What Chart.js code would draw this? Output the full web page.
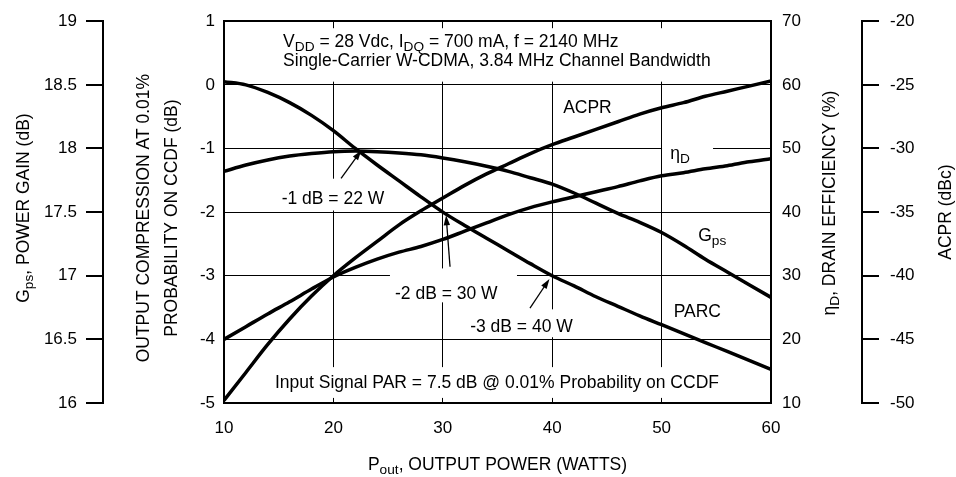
<!DOCTYPE html>
<html>
<head>
<meta charset="utf-8">
<script src="https://cdn.jsdelivr.net/npm/chart.js@4.4.1/dist/chart.umd.min.js"></script>
<style>
  html, body { margin: 0; padding: 0; background: #fff; }
  #wrap { width: 956px; height: 477px; }
</style>
</head>
<body>
<div id="wrap"><canvas id="chart" width="956" height="477"></canvas></div>
<script>
// output power sweep (W) and the four measured curves
const pout = [10, 12, 14, 16, 18, 20, 22, 24, 26, 28, 30, 32, 34, 36, 38, 40, 42, 44, 46, 48, 50, 52, 54, 56, 58, 60];
const gps  = [17.82, 17.87, 17.91, 17.94, 17.96, 17.975, 17.98, 17.975, 17.965, 17.95, 17.925, 17.895, 17.86,
              17.82, 17.77, 17.72, 17.65, 17.57, 17.49, 17.42, 17.34, 17.24, 17.13, 17.03, 16.93, 16.83];
const parc = [0.05, 0.0, -0.12, -0.28, -0.48, -0.72, -1.0, -1.26, -1.51, -1.76, -2.0, -2.21, -2.41,
              -2.61, -2.81, -3.0, -3.16, -3.33, -3.48, -3.63, -3.77, -3.91, -4.05, -4.19, -4.33, -4.47];
const eff  = [20.0, 22.0, 24.0, 25.9, 27.9, 29.8, 31.3, 32.6, 33.7, 34.6, 35.7, 37.0, 38.3,
              39.6, 40.7, 41.6, 42.4, 43.2, 44.0, 44.9, 45.7, 46.2, 46.8, 47.3, 47.9, 48.4];
const acpr = [-49.8, -47.6, -45.4, -43.4, -41.6, -40.0, -38.6, -37.3, -36.0, -34.9, -33.9, -32.9, -32.0,
              -31.2, -30.4, -29.7, -29.1, -28.5, -27.9, -27.3, -26.8, -26.4, -25.9, -25.5, -25.1, -24.7];

// tick values per axis
const poutTicks = [10, 20, 30, 40, 50, 60];
const gpsTicks  = [16, 16.5, 17, 17.5, 18, 18.5, 19];
const parcTicks = [-5, -4, -3, -2, -1, 0, 1];
const effTicks  = [10, 20, 30, 40, 50, 60, 70];
const acprTicks = [-50, -45, -40, -35, -30, -25, -20];

const FONT = '"Liberation Sans", Arial, Helvetica, sans-serif';
Chart.defaults.color = '#000';
Chart.defaults.font.family = FONT;

// text parts: [text, isSubscript]
const header1 = [['V'], ['DD', 1], [' = 28 Vdc, I'], ['DQ', 1], [' = 700 mA, f = 2140 MHz']];
const header2 = [['Single-Carrier W-CDMA, 3.84 MHz Channel Bandwidth']];
const footer  = [['Input Signal PAR = 7.5 dB @ 0.01% Probability on CCDF']];

// notes inside the plot, anchored in (W, PARC dB) units: left x, baseline y
const notes = [
  { at: [15.4, 0.6], parts: header1 },
  { at: [15.4, 0.295], parts: header2 },
  { at: [41.0, -0.44], parts: [['ACPR']] },
  { at: [50.8, -1.16], parts: [['\u03B7'], ['D', 1]] },
  { at: [53.35, -2.45], parts: [['G'], ['ps', 1]] },
  { at: [51.1, -3.65], parts: [['PARC']] },
  { at: [15.27, -1.87], parts: [['-1 dB = 22 W']] },
  { at: [25.63, -3.36], parts: [['-2 dB = 30 W']] },
  { at: [32.5, -3.88], parts: [['-3 dB = 40 W']] },
  { at: [14.66, -4.765], parts: footer },
];

// white patches behind the notes that break the grid: [x0, x1, y0, y1]
const noteBoxes = [
  [14.66, 55.34, 0.89, 0.05],
  [50.04, 54.70, -0.88, -1.19],
  [14.94, 24.99, -1.475, -1.975],
  [25.17, 36.78, -2.885, -3.418],
  [32.12, 43.09, -3.528, -3.966],
  [14.2, 55.34, -4.436, -4.92],
];

// leader arrows: [fromX, fromY, tipX, tipY]
const arrows = [
  [20.7, -1.47, 22.55, -1.03],
  [30.66, -2.86, 30.3, -2.05],
  [37.97, -3.51, 39.75, -3.05],
];

function drawParts(ctx, parts, x, y, size, align) {
  const main = size + 'px ' + FONT;
  const sub = (size * 0.78).toFixed(1) + 'px ' + FONT;
  let w = 0;
  for (const [t, s] of parts) { ctx.font = s ? sub : main; w += ctx.measureText(t).width; }
  let cx = align === 'center' ? x - w / 2 : x;
  ctx.textAlign = 'left';
  ctx.textBaseline = 'alphabetic';
  for (const [t, s] of parts) {
    ctx.font = s ? sub : main;
    ctx.fillText(t, cx, s ? y + size * 0.25 : y);
    cx += ctx.measureText(t).width;
  }
}

function drawVertical(ctx, parts, x, y, size) {
  ctx.save();
  ctx.translate(x, y);
  ctx.rotate(-Math.PI / 2);
  drawParts(ctx, parts, 0, 0, size, 'center');
  ctx.restore();
}

function drawArrow(ctx, x0, y0, x1, y1) {
  const a = Math.atan2(y1 - y0, x1 - x0);
  const len = 10, half = 3.2;
  const c = Math.cos(a), s = Math.sin(a);
  ctx.beginPath();
  ctx.moveTo(x0, y0);
  ctx.lineTo(x1 - c * len * 0.7, y1 - s * len * 0.7);
  ctx.stroke();
  ctx.beginPath();
  ctx.moveTo(x1, y1);
  ctx.lineTo(x1 - c * len + s * half, y1 - s * len - c * half);
  ctx.lineTo(x1 - c * len - s * half, y1 - s * len + c * half);
  ctx.closePath();
  ctx.fill();
}

const notesPlugin = {
  id: 'notes',
  beforeDatasetsDraw(chart) {
    const { ctx, scales: { x, yParc } } = chart;
    ctx.save();
    ctx.fillStyle = '#fff';
    for (const b of noteBoxes) {
      const x0 = x.getPixelForValue(b[0]), x1 = x.getPixelForValue(b[1]);
      const y0 = yParc.getPixelForValue(b[2]), y1 = yParc.getPixelForValue(b[3]);
      ctx.fillRect(x0, y0, x1 - x0, y1 - y0);
    }
    ctx.fillStyle = '#000';
    for (const n of notes) {
      drawParts(ctx, n.parts, x.getPixelForValue(n.at[0]), yParc.getPixelForValue(n.at[1]), 17.5, 'left');
    }
    ctx.strokeStyle = '#000';
    ctx.lineWidth = 1.3;
    for (const a of arrows) {
      drawArrow(ctx, x.getPixelForValue(a[0]), yParc.getPixelForValue(a[1]),
        x.getPixelForValue(a[2]), yParc.getPixelForValue(a[3]));
    }
    ctx.restore();
  },
  afterDraw(chart) {
    const { ctx, chartArea, scales } = chart;
    const midY = (chartArea.top + chartArea.bottom) / 2;
    ctx.save();
    ctx.fillStyle = '#000';
    drawVertical(ctx, [['G'], ['ps', 1], [', POWER GAIN (dB)']], scales.yGps.left + 29, midY - 4, 17.5);
    drawVertical(ctx, [['OUTPUT COMPRESSION AT 0.01%']], scales.yParc.left + 46, midY + 6, 17.5);
    drawVertical(ctx, [['PROBABILITY ON CCDF (dB)']], scales.yParc.left + 74, midY + 6, 17.5);
    drawVertical(ctx, [['\u03B7'], ['D', 1], [', DRAIN EFFICIENCY (%)']], scales.yEta.left + 64, midY - 9, 17.5);
    drawVertical(ctx, [['ACPR (dBc)']], scales.yAcpr.left + 89, midY, 17.5);
    drawParts(ctx, [['P'], ['out', 1], [', OUTPUT POWER (WATTS)']], (chartArea.left + chartArea.right) / 2, chartArea.bottom + 67, 17.5, 'center');
    ctx.restore();
  }
};

const line = (data, axis) => ({
  data: pout.map((x, i) => ({ x, y: data[i] })),
  yAxisID: axis,
  borderColor: '#000',
  borderWidth: 3.5,
  pointRadius: 0,
  fill: false,
  cubicInterpolationMode: 'monotone',
});

const tickFont = { family: FONT, size: 17 };
const setTicks = (values) => (scale) => { scale.ticks = values.map((v) => ({ value: v })); };
const plain = (v) => String(v);

new Chart(document.getElementById('chart'), {
  type: 'line',
  data: {
    datasets: [
      line(gps, 'yGps'),
      line(parc, 'yParc'),
      line(eff, 'yEta'),
      line(acpr, 'yAcpr'),
    ],
  },
  plugins: [notesPlugin],
  options: {
    responsive: false,
    animation: false,
    layout: { padding: { top: 20, left: 0, right: 0, bottom: 0 } },
    plugins: { legend: { display: false }, tooltip: { enabled: false } },
    scales: {
      x: {
        type: 'linear', min: 10, max: 60,
        afterBuildTicks: setTicks(poutTicks),
        afterFit: (s) => { s.height = 74; },
        grid: { color: '#000', lineWidth: 1, drawTicks: false },
        border: { color: '#000', width: 2 },
        ticks: { font: tickFont, padding: 15, maxRotation: 0, callback: plain },
      },
      yParc: {
        position: 'left', weight: 0, min: -5, max: 1,
        afterBuildTicks: setTicks(parcTicks),
        afterFit: (s) => { s.width = 121; },
        grid: { color: '#000', lineWidth: (c) => (c.tick && c.tick.value === 1 ? 2 : 1), drawTicks: false },
        border: { color: '#000', width: 2 },
        ticks: { font: tickFont, padding: 9, callback: plain },
      },
      yGps: {
        position: 'left', weight: 1, min: 16, max: 19,
        afterBuildTicks: setTicks(gpsTicks),
        afterFit: (s) => { s.width = 103; },
        grid: { drawOnChartArea: false, color: '#000', lineWidth: 2, tickLength: 17 },
        border: { color: '#000', width: 2 },
        ticks: { font: tickFont, padding: 9, callback: plain },
      },
      yEta: {
        position: 'right', weight: 0, min: 10, max: 70,
        afterBuildTicks: setTicks(effTicks),
        afterFit: (s) => { s.width = 91; },
        grid: { display: false, drawTicks: false },
        border: { color: '#000', width: 2 },
        ticks: { font: tickFont, padding: 11, callback: plain },
      },
      yAcpr: {
        position: 'right', weight: 1, min: -50, max: -20,
        afterBuildTicks: setTicks(acprTicks),
        afterFit: (s) => { s.width = 94; },
        grid: { drawOnChartArea: false, color: '#000', lineWidth: 2, tickLength: 17 },
        border: { color: '#000', width: 2 },
        ticks: { font: tickFont, padding: 11, callback: plain },
      },
    },
  },
});
</script>
</body>
</html>
